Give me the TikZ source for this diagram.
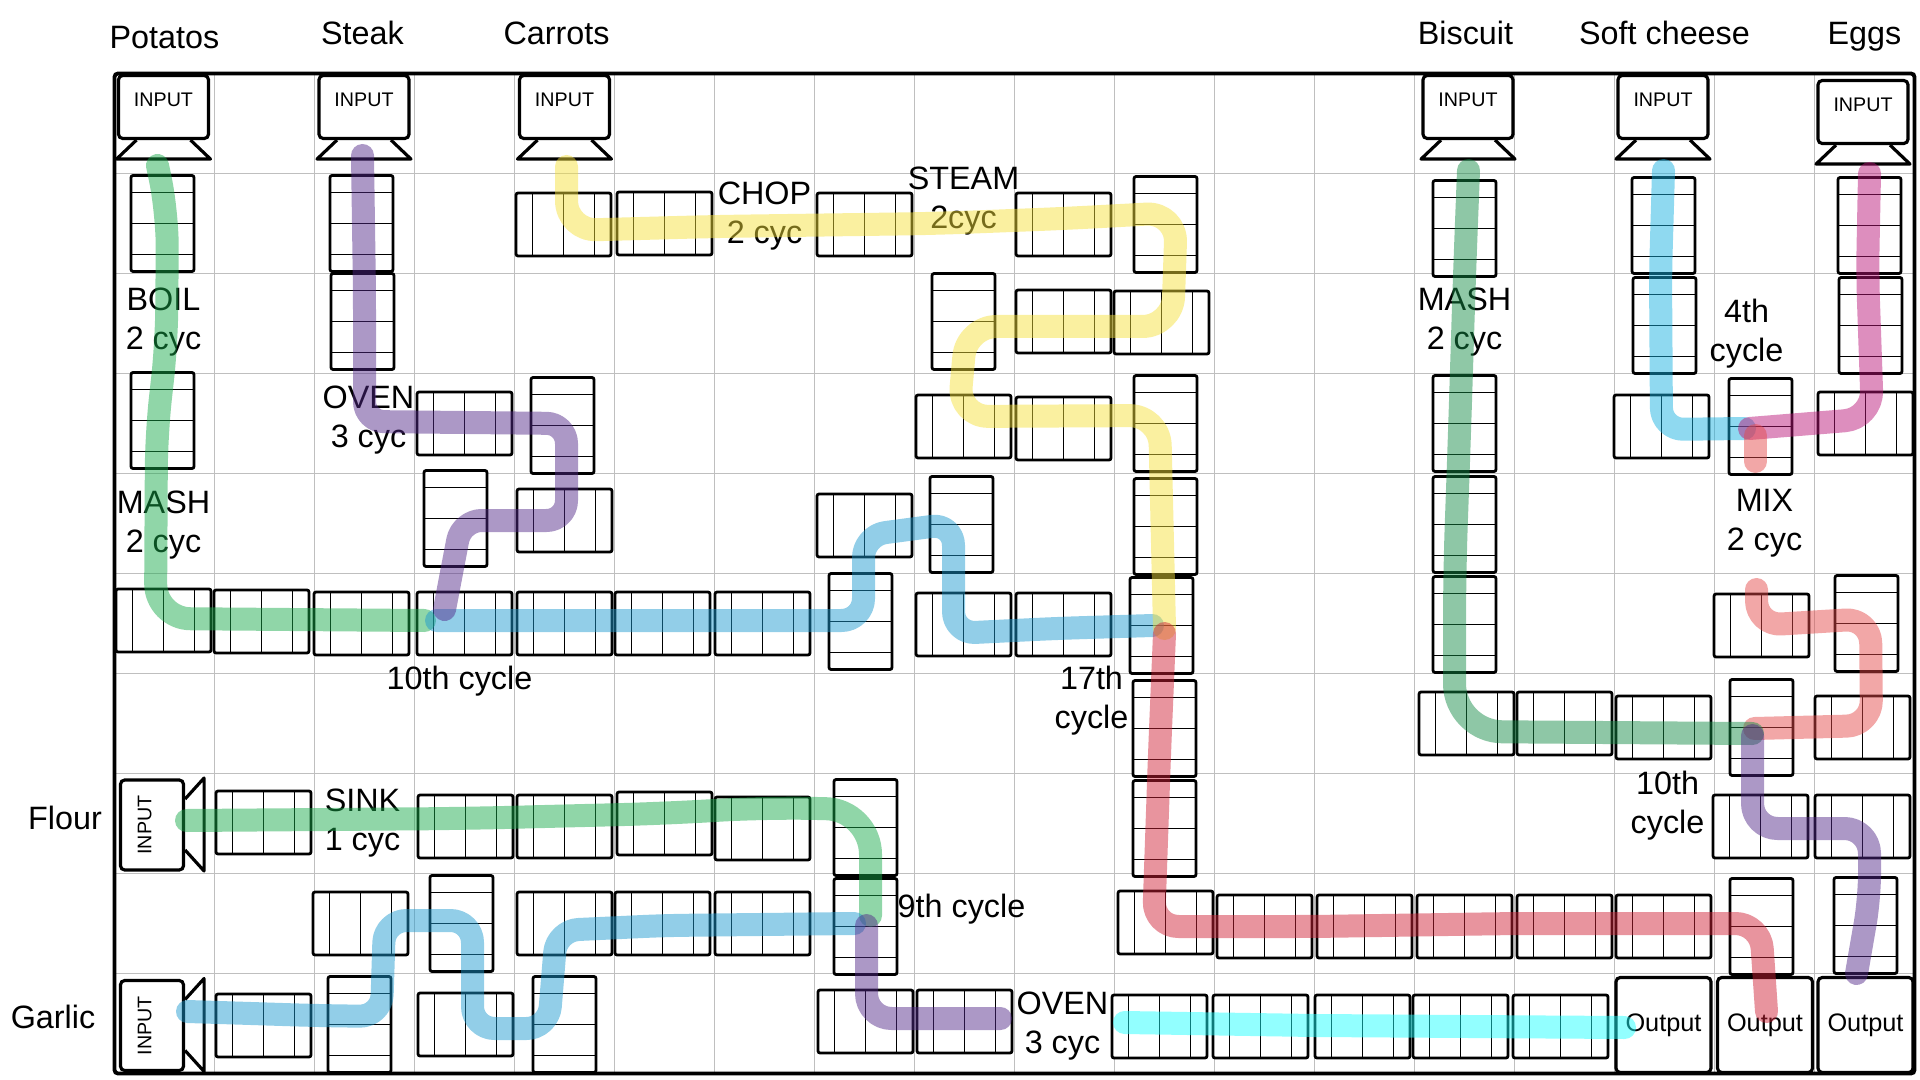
\documentclass[tikz,border=0pt]{standalone}
\usepackage{fontspec}
\setmainfont{Liberation Sans}
\definecolor{fgreen}{RGB}{24,170,74}
\definecolor{fgreenb}{RGB}{20,140,70}
\definecolor{fpurple}{RGB}{82,40,136}
\definecolor{fyellow}{RGB}{245,224,57}
\definecolor{fblue}{RGB}{28,153,207}
\definecolor{fcheese}{RGB}{22,176,224}
\definecolor{fred}{RGB}{207,32,53}
\definecolor{fmagenta}{RGB}{186,20,120}
\definecolor{flightred}{RGB}{228,72,72}
\definecolor{fcyan}{RGB}{28,255,255}
\begin{document}
\begin{tikzpicture}[x=1cm,y=-1cm,
  gridline/.style={draw=black!25, line width=0.45pt},
  frame/.style={draw=black, line width=1.1pt, rounded corners=1pt},
  conv/.style={draw, line width=0.8pt, rounded corners=0.6pt, inner sep=0pt, fill=white},
  hc/.style={conv, minimum width=0.95cm, minimum height=0.63cm,
    path picture={\foreach \q in {-0.31,0,0.31}
      \draw[line width=0.3pt] ([xshift=\q cm]path picture bounding box.north) -- ([xshift=\q cm]path picture bounding box.south);}},
  vc/.style={conv, minimum width=0.63cm, minimum height=0.96cm,
    path picture={\foreach \q in {-0.31,0,0.31}
      \draw[line width=0.3pt] ([yshift=\q cm]path picture bounding box.west) -- ([yshift=\q cm]path picture bounding box.east);}},
  inbox/.style={draw, line width=0.9pt, rounded corners=1.2pt, fill=white, minimum width=0.9cm, minimum height=0.63cm, inner sep=0pt, font=\fontsize{5.6}{6}\selectfont, text depth=0.15cm},
  funnel/.style={draw, line width=0.9pt, line join=round},
  outbox/.style={draw, line width=0.9pt, rounded corners=1.2pt, fill=white, minimum size=0.95cm, inner sep=0pt, font=\fontsize{7.2}{8}\selectfont},
  lab/.style={font=\fontsize{9.2}{11.1}\selectfont, align=center, inner sep=0pt},
  flow/.style={line width=0.23cm, line cap=round, line join=round, opacity=0.48}
]
\useasboundingbox (-1.145,-0.735) rectangle (18.055,10.065);

% grid and frame
\draw[gridline] (0,0) grid (18,10);
\draw[frame] (0,0) rectangle (18,10);

% vertical conveyors
\foreach \n/\x/\y in {1/0.48/1.5, 2/0.48/3.47, 3/2.47/1.5, 4/2.48/2.48, 5/4.48/3.52, 6/3.41/4.45,
  7/10.51/1.51, 8/8.49/2.48, 9/10.51/3.5, 10/10.51/4.53, 11/8.47/4.51, 12/7.46/5.48,
  13/10.47/5.52, 14/10.5/6.55, 15/10.5/7.55, 16/16.47/8.53, 17/17.51/8.52, 18/7.51/7.54,
  19/7.51/8.53, 20/3.47/8.5, 21/2.45/9.51, 22/4.5/9.51, 23/13.5/1.55, 24/13.5/3.5,
  25/13.5/4.51, 26/13.5/5.51, 27/15.49/1.52, 28/15.5/2.52, 29/17.55/1.52, 30/17.56/2.52,
  31/16.46/3.53, 32/17.52/5.5, 33/16.47/6.54}
  \node[vc] (v\n) at (\x,\y) {};

% horizontal conveyors
\foreach \n/\x/\y in {1/3.5/3.5, 2/4.5/4.47, 3/4.49/1.51, 4/5.5/1.5, 5/7.5/1.51, 6/9.49/1.51,
  7/9.49/2.48, 8/10.47/2.49, 9/8.49/3.53, 10/9.49/3.55, 11/7.5/4.52,
  12/0.49/5.47, 13/1.47/5.48, 14/2.47/5.5, 15/3.5/5.5, 16/4.5/5.5, 17/5.48/5.5, 18/6.48/5.5,
  19/8.49/5.51, 20/9.49/5.51,
  21/10.51/8.49, 22/11.5/8.53, 23/12.5/8.53, 24/13.5/8.53, 25/14.5/8.53, 26/15.49/8.53,
  27/10.45/9.53, 28/11.46/9.53, 29/12.48/9.53, 30/13.46/9.53, 31/14.46/9.53,
  32/7.51/9.48, 33/8.5/9.48,
  34/1.49/7.49, 35/3.51/7.53, 36/4.5/7.53, 37/5.5/7.5, 38/6.48/7.55,
  39/2.46/8.5, 40/4.5/8.5, 41/5.48/8.5, 42/6.48/8.5,
  43/1.49/9.52, 44/3.51/9.51,
  45/15.47/3.53, 46/17.51/3.5, 47/16.47/5.52,
  48/13.52/6.5, 49/14.5/6.5, 50/15.49/6.54, 51/17.48/6.54,
  52/16.46/7.53, 53/17.48/7.53}
  \node[hc] (h\n) at (\x,\y) {};

% inputs (top)
\foreach \n/\x/\y in {pot/0.49/0.335, stk/2.495/0.335, car/4.5/0.335, bis/13.535/0.335, chs/15.485/0.335, egg/17.485/0.385}{
  \node[inbox] (in\n) at (\x,\y) {INPUT};
  \draw[funnel] (in\n.south) ++(-0.27,0) -- ++(-0.2,0.19) -- ++(0.94,0) -- ++(-0.2,-0.19);
}
% inputs (left)
\foreach \n/\y in {flo/7.515, gar/9.52}{
  \node[inbox, rotate=90] (in\n) at (0.375,\y) {INPUT};
  \draw[funnel] (in\n.south) ++(0,-0.26) -- ++(0.19,-0.21) -- ++(0,0.93) -- ++(-0.19,-0.21);
}
% outputs
\node[outbox] (out1) at (15.49,9.515) {Output};
\node[outbox] (out2) at (16.505,9.515) {Output};
\node[outbox] (out3) at (17.51,9.515) {Output};

% headings
\node[lab, anchor=base] (tpot) at (0.5,-0.25) {Potatos};
\node[lab, anchor=base] (tstk) at (2.48,-0.29) {Steak};
\node[lab, anchor=base] (tcar) at (4.42,-0.29) {Carrots};
\node[lab, anchor=base] (tbis) at (13.51,-0.29) {Biscuit};
\node[lab, anchor=base] (tchs) at (15.5,-0.29) {Soft cheese};
\node[lab, anchor=base] (tegg) at (17.5,-0.29) {Eggs};
\node[lab, anchor=base] (tflo) at (-0.495,7.56) {Flour};
\node[lab, anchor=base] (tgar) at (-0.615,9.55) {Garlic};

% step labels
\node[lab] (lboil) at (0.49,2.49) {BOIL\\2 cyc};
\node[lab] (lmash1) at (0.49,4.52) {MASH\\2 cyc};
\node[lab] (loven1) at (2.54,3.47) {OVEN\\3 cyc};
\node[lab] (lchop) at (6.5,1.43) {CHOP\\2 cyc};
\node[lab] (lsteam) at (8.49,1.28) {STEAM\\2cyc};
\node[lab] (l10a) at (3.45,6.08) {10th cycle};
\node[lab] (l17) at (9.77,6.27) {17th\\cycle};
\node[lab] (lmash2) at (13.5,2.49) {MASH\\2 cyc};
\node[lab] (l4) at (16.32,2.6) {4th\\cycle};
\node[lab] (lmix) at (16.5,4.5) {MIX\\2 cyc};
\node[lab] (l10b) at (15.53,7.32) {10th\\cycle};
\node[lab] (lsink) at (2.48,7.5) {SINK\\1 cyc};
\node[lab] (l9) at (8.47,8.36) {9th cycle};
\node[lab] (loven2) at (9.48,9.53) {OVEN\\3 cyc};

% flows
\draw[flow, fgreen, rounded corners=0.35cm] (0.43,0.92) -- (0.53,1.4) -- (0.52,2.7) -- (0.42,3.6) -- (0.41,5.45) -- (3.1,5.47);
\draw[flow, fblue, rounded corners=0.22cm] (3.22,5.47) -- (5.5,5.47) -- (7.49,5.47) -- (7.49,4.62) -- (8.39,4.5) -- (8.39,5.6) -- (9.4,5.55) -- (10.38,5.52);
\draw[flow, fpurple, rounded corners=0.2cm] (2.48,0.82) -- (2.5,2.2) -- (2.5,3.48) -- (4.52,3.5) -- (4.52,4.47) -- (3.47,4.47) -- (3.3,5.36);
\draw[flow, fyellow, rounded corners=0.3cm] (4.52,0.93) -- (4.52,1.57) -- (6.0,1.53) -- (8.2,1.5) -- (9.5,1.45) -- (10.62,1.39) -- (10.58,2.53) -- (8.52,2.53) -- (8.44,3.43) -- (10.45,3.42) -- (10.5,5.55);
\draw[flow, fred, rounded corners=0.25cm] (10.5,5.6) -- (10.45,6.8) -- (10.39,8.53) -- (12.0,8.53) -- (14.0,8.5) -- (16.46,8.5) -- (16.52,9.38);
\draw[flow, fcheese, rounded corners=0.22cm] (15.49,0.97) -- (15.46,2.0) -- (15.47,3.56) -- (16.3,3.55);
\draw[flow, fmagenta, rounded corners=0.28cm] (17.55,1.0) -- (17.53,2.0) -- (17.58,3.45) -- (16.35,3.55);
\draw[flow, flightred] (16.41,3.62) -- (16.41,3.88);
\draw[flow, flightred, rounded corners=0.25cm] (16.42,5.16) -- (16.42,5.52) -- (17.56,5.45) -- (17.57,6.52) -- (16.4,6.55);
\draw[flow, fgreenb, rounded corners=0.48cm] (13.54,0.97) -- (13.5,2.0) -- (13.45,3.6) -- (13.4,5.0) -- (13.4,6.58) -- (16.38,6.6);
\draw[flow, fpurple, rounded corners=0.25cm] (16.38,6.62) -- (16.38,7.55) -- (17.55,7.55) -- (17.55,8.25) -- (17.42,9.0);
\draw[flow, fgreen, rounded corners=0.45cm] (0.72,7.47) -- (3.5,7.45) -- (5.5,7.4) -- (6.5,7.34) -- (7.56,7.36) -- (7.56,8.42);
\draw[flow, fblue, rounded corners=0.22cm] (0.73,9.38) -- (2.0,9.42) -- (2.67,9.43) -- (2.7,8.47) -- (3.58,8.47) -- (3.58,9.55) -- (4.34,9.55) -- (4.42,8.57) -- (5.5,8.52) -- (7.4,8.5);
\draw[flow, fpurple, rounded corners=0.25cm] (7.52,8.52) -- (7.52,9.45) -- (8.86,9.45);
\draw[flow, fcyan] (10.1,9.49) -- (12.0,9.52) -- (15.1,9.54);
\end{tikzpicture}
\end{document}
